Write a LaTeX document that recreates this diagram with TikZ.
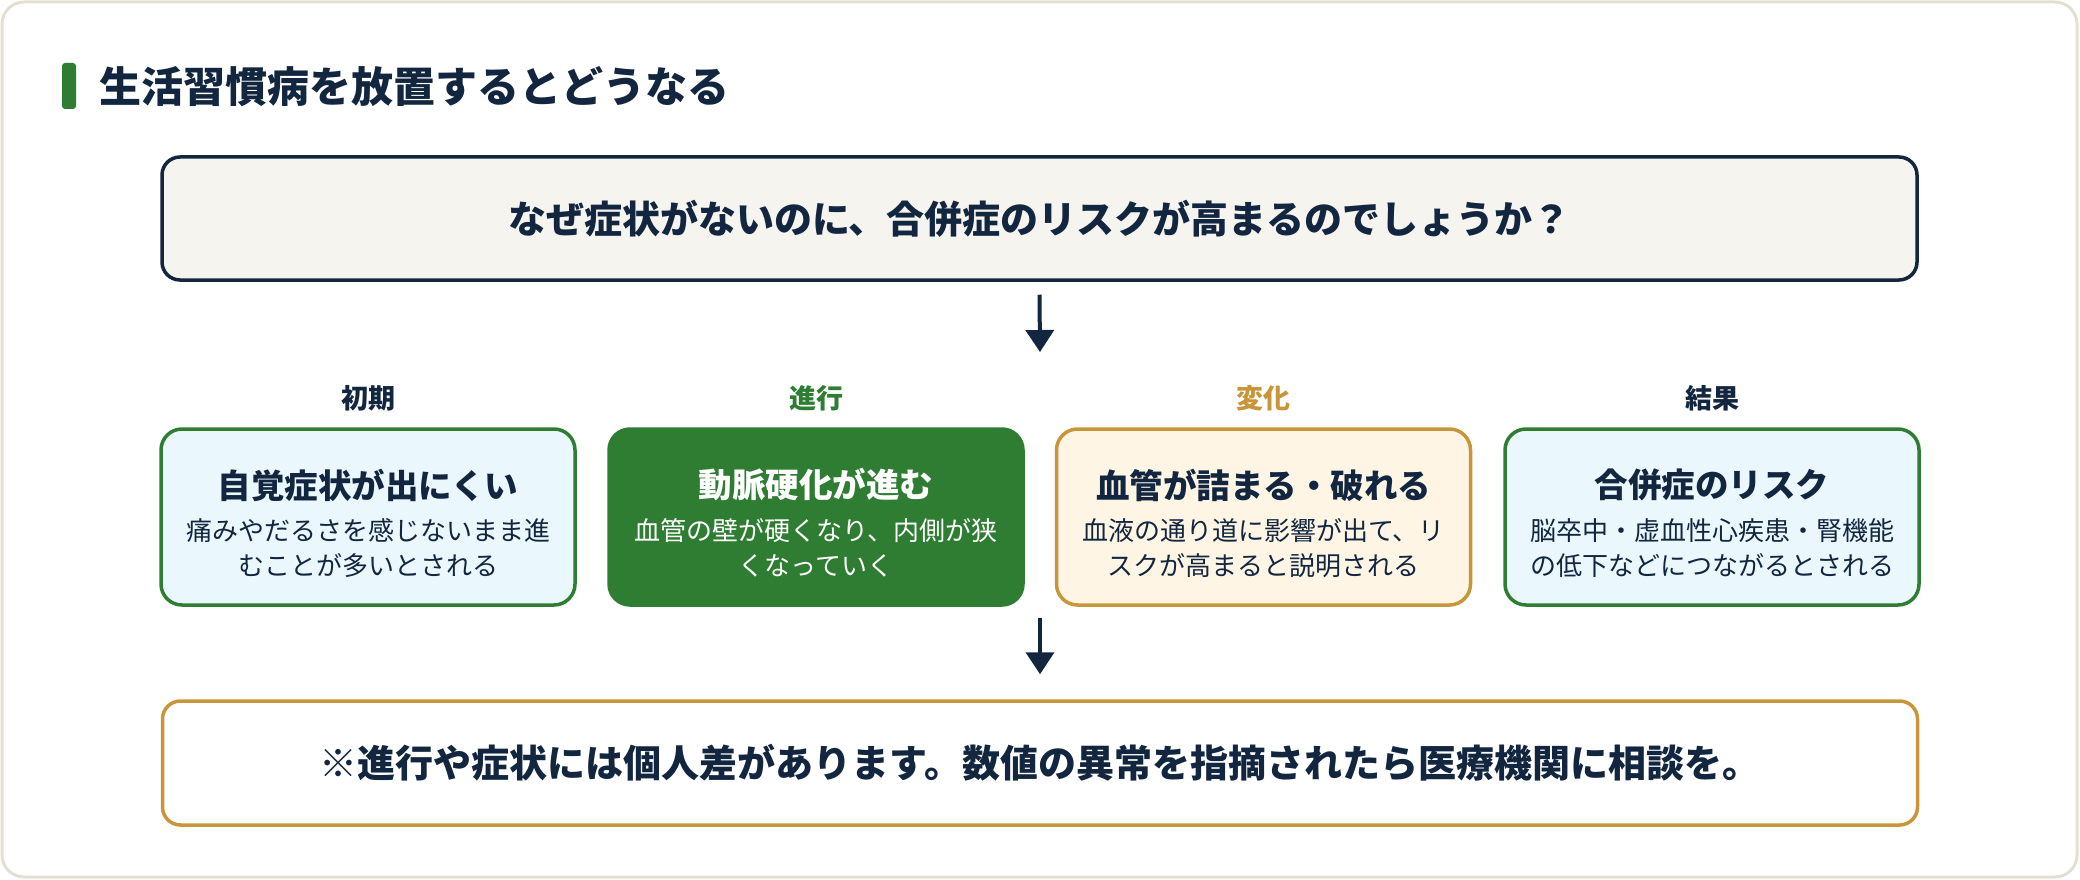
\documentclass[tikz,border=0pt]{standalone}
\usepackage{fontspec}
\setmainfont{Noto Sans CJK JP}
\usetikzlibrary{arrows.meta}
\definecolor{navy}{HTML}{12263F}
\definecolor{grn}{HTML}{2E7D32}
\definecolor{gold}{HTML}{C8963A}
\definecolor{lblue}{HTML}{EAF7FD}
\definecolor{cream}{HTML}{FFF5E4}
\definecolor{qbg}{HTML}{F5F4EF}
\definecolor{cardline}{HTML}{E3E0D3}
\tikzset{
  card/.style={draw, line width=3.5pt, rounded corners=21pt, minimum width=414pt, minimum height=176pt, inner sep=0pt},
  ttl/.style={font=\fontsize{33.5}{40}\selectfont\bfseries, text=navy, inner sep=0pt},
  bdy/.style={font=\fontsize{26}{35}\selectfont, text=navy, align=center, inner sep=0pt},
  lbl/.style={font=\fontsize{27}{32}\selectfont\bfseries, inner sep=0pt},
  wide/.style={line width=3.5pt, rounded corners=18pt, minimum width=1755pt, minimum height=123pt, inner sep=0pt, font=\fontsize{38}{44}\selectfont\bfseries, text=navy},
  arr/.style={draw=navy, line width=4pt, -{Triangle[width=28pt,length=22pt]}}
}
\begin{document}
\begin{tikzpicture}[x=1pt,y=-1pt]
\useasboundingbox (0,0) rectangle (2080,880);
\draw[cardline, line width=3pt, fill=white, rounded corners=22pt] (2,2) rectangle (2077,877);
% heading
\fill[grn, rounded corners=3pt] (62,63) rectangle (76,109);
\node[anchor=west, inner sep=0pt, font=\fontsize{42}{48}\selectfont\bfseries, text=navy] (head) at (99,87) {生活習慣病を放置するとどうなる};
% question
\node[wide, draw=navy, fill=qbg] (q) at (1039.5,218.5) {なぜ症状がないのに、合併症のリスクが高まるのでしょうか？};
\coordinate (a1e) at (1040,352);
\draw[arr] ([yshift=-13pt]q.south) -- (a1e);
% labels
\node[lbl, text=navy] (l1) at (368,398) {初期};
\node[lbl, text=grn] (l2) at (816,398) {進行};
\node[lbl, text=gold] (l3) at (1263.5,398) {変化};
\node[lbl, text=navy] (l4) at (1712,398) {結果};
% boxes
\node[card, draw=grn, fill=lblue] (b1) at (368,517) {};
\node[card, draw=grn, fill=grn] (b2) at (816,517) {};
\node[card, draw=gold, fill=cream] (b3) at (1263.5,517) {};
\node[card, draw=grn, fill=lblue] (b4) at (1712,517) {};
\node[ttl] (t1) at (368,485) {自覚症状が出にくい};
\node[ttl, text=white] (t2) at (816,485) {動脈硬化が進む};
\node[ttl] (t3) at (1263.5,485) {血管が詰まる・破れる};
\node[ttl] (t4) at (1712,485) {合併症のリスク};
\node[bdy] (d1) at (368,548) {痛みやだるさを感じないまま進\\むことが多いとされる};
\node[bdy, text=white] (d2) at (816,548) {血管の壁が硬くなり、内側が狭\\くなっていく};
\node[bdy] (d3) at (1263.5,548) {血液の通り道に影響が出て、リ\\スクが高まると説明される};
\node[bdy] (d4) at (1712,548) {脳卒中・虚血性心疾患・腎機能\\の低下などにつながるとされる};
% bottom
\coordinate (a2s) at (1040,618);
\node[wide, draw=gold, fill=white, minimum height=124pt] (bot) at (1040,763) {※進行や症状には個人差があります。数値の異常を指摘されたら医療機関に相談を。};
\draw[arr] (a2s) -- ([yshift=25pt]bot.north);
\end{tikzpicture}
\end{document}
